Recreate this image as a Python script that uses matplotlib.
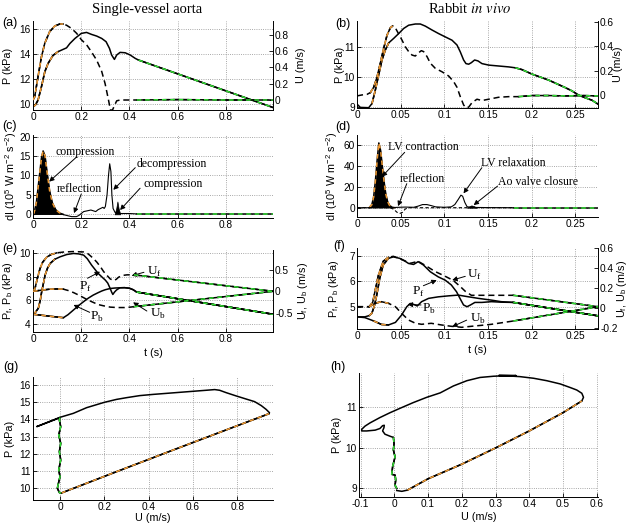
import numpy as np
import matplotlib.pyplot as plt

plt.rcParams['font.family'] = 'Liberation Sans'
plt.rcParams['axes.unicode_minus'] = False

ORANGE = '#ee9933'
GREEN = '#33dd33'
LW = 1.1
SERIF = 'Liberation Serif'
TICK_FS = 7.3

# ---------------- data ----------------
# (a) single-vessel aorta: pressure and velocity vs time
ta_P = np.array([0, 0.01, 0.021, 0.035, 0.049, 0.0625, 0.083, 0.104, 0.125, 0.139, 0.153, 0.174,
                 0.2, 0.222, 0.243, 0.264, 0.285, 0.303, 0.317, 0.326, 0.3375, 0.347, 0.361,
                 0.382, 0.403, 0.424, 0.4375, 0.995])
Pa = np.array([9.8, 9.95, 10.34, 11.4, 12.6, 13.26, 13.9, 14.2, 14.38, 14.5, 14.85, 15.25,
               15.65, 15.73, 15.57, 15.44, 15.25, 14.99, 14.46, 13.93, 13.58, 13.93, 14.14,
               14.11, 13.93, 13.66, 13.53, 9.75])
ta_U = np.array([0, 0.007, 0.021, 0.035, 0.049, 0.069, 0.09, 0.111, 0.125, 0.139, 0.16, 0.181,
                 0.201, 0.222, 0.243, 0.264, 0.285, 0.299, 0.313, 0.3215, 0.33, 0.3375, 0.347,
                 0.361, 0.43, 0.6, 0.8, 0.995])
Ua = np.array([0.0, 0.04, 0.29, 0.53, 0.7, 0.84, 0.91, 0.935, 0.935, 0.92, 0.88, 0.82,
               0.74, 0.68, 0.59, 0.49, 0.35, 0.2, 0.0, -0.13, -0.12, -0.07, -0.01,
               0.0, 0.0, 0.005, 0.0, 0.0])

# (b) rabbit in vivo: pressure and velocity vs time
tb_P = np.array([0, 0.0038, 0.0134, 0.0172, 0.021, 0.0248, 0.0286, 0.0324, 0.0363, 0.042, 0.0477,
                 0.0534, 0.0592, 0.0668, 0.0725, 0.0782, 0.0859, 0.0935, 0.1011, 0.1088, 0.1145,
                 0.1183, 0.1221, 0.1248, 0.1279, 0.1309, 0.1347, 0.1385, 0.1431, 0.1508, 0.1622,
                 0.1737, 0.1813, 0.1889, 0.2004, 0.2195, 0.2385, 0.2462, 0.2538, 0.2615, 0.2691,
                 0.276])
Pb_ = np.array([9.09, 8.98, 8.97, 9.11, 9.56, 10.06, 10.56, 10.89, 11.13, 11.28, 11.44,
                11.61, 11.72, 11.76, 11.76, 11.69, 11.56, 11.44, 11.33, 11.22, 11.06,
                10.83, 10.56, 10.44, 10.42, 10.47, 10.56, 10.53, 10.44, 10.39, 10.36,
                10.33, 10.3, 10.24, 10.09, 9.89, 9.64, 9.53, 9.39, 9.3, 9.22, 9.09])
tb_U = np.array([0, 0.0057, 0.0115, 0.0153, 0.0191, 0.0229, 0.0267, 0.0305, 0.0344, 0.0382, 0.0408,
                 0.0439, 0.0477, 0.0515, 0.0553, 0.0592, 0.063, 0.0668, 0.0706, 0.0737, 0.0763,
                 0.0802, 0.084, 0.0897, 0.0973, 0.105, 0.1107, 0.1145, 0.1183, 0.1221, 0.1248,
                 0.1279, 0.1317, 0.1374, 0.1431, 0.1508, 0.1622, 0.1737, 0.1851, 0.2004, 0.2195,
                 0.2385, 0.2576, 0.276])
Ub_ = np.array([-0.008, 0.0, 0.005, 0.019, 0.063, 0.145, 0.26, 0.38, 0.49, 0.55, 0.565,
                0.55, 0.5, 0.45, 0.395, 0.355, 0.327, 0.319, 0.346, 0.363, 0.355,
                0.314, 0.26, 0.218, 0.19, 0.155, 0.109, 0.063, -0.014, -0.082, -0.105,
                -0.1, -0.063, -0.035, -0.046, -0.035, -0.019, -0.014, -0.014, -0.005, -0.005,
                -0.008, -0.005, -0.008])

# (c) wave intensity, single vessel
tc_fill = np.array([0.003, 0.014, 0.025, 0.035, 0.042, 0.05, 0.058, 0.069, 0.08, 0.094, 0.111, 0.125])
dIc_fill = np.array([0, 3, 9, 14.5, 16.3, 15, 11, 6, 3, 1.2, 0.3, 0])
tc_line = np.array([0, 0.12, 0.14, 0.16, 0.18, 0.19, 0.2, 0.21, 0.225, 0.24, 0.25, 0.26, 0.27,
                    0.28, 0.29, 0.295, 0.3, 0.307, 0.313, 0.318, 0.323, 0.327, 0.332, 0.34,
                    0.36, 0.4, 0.43])
dIc_line = np.array([0, 0, -0.3, -0.6, -0.6, -0.3, 0.2, 0.7, 0.9, 1.1, 0.9, 0.7, 1.2,
                     1.5, 1.8, 1.5, 2.0, 5, 10, 13, 11, 5, 1.5, 0.5,
                     0.2, 0.2, 0.1])
tc_fill2 = np.array([0.338, 0.345, 0.35, 0.355, 0.362])
dIc_fill2 = np.array([0, 1.5, 3.3, 1.5, 0])
tc_rest = np.array([0.43, 0.995])
dIc_rest = np.array([0, 0])

# (d) wave intensity, rabbit
td_fill = np.array([0.014, 0.017, 0.019, 0.021, 0.023, 0.025, 0.027, 0.029, 0.031, 0.033, 0.035,
                    0.037, 0.040, 0.043])
dId_fill = np.array([0, 3, 10, 25, 45, 62, 55, 40, 25, 13, 6, 2.5, 0.5, 0])
td_line = np.array([0, 0.04, 0.045, 0.055, 0.065, 0.07, 0.075, 0.08, 0.085, 0.09, 0.1, 0.108,
                    0.112, 0.116, 0.119, 0.121, 0.1235, 0.126, 0.13, 0.15, 0.18])
dId_line = np.array([0, 0, 0.3, 0.6, 0.4, 1.5, 3.0, 3.0, 2, 0.8, 0.4, 0.8,
                     3, 8, 12, 11, 5, 1, 0.3, 0.1, 0])
td_dash = np.array([0, 0.038, 0.042, 0.046, 0.049, 0.052, 0.055, 0.058, 0.18])
dId_dash = np.array([0, 0, -1.5, -4.5, -5.5, -4.5, -1.5, 0, 0])
td_fill2 = np.array([0.126, 0.129, 0.131, 0.134, 0.137])
dId_fill2 = np.array([0, 1.5, 2.2, 1.5, 0])
td_rest = np.array([0.18, 0.276])
dId_rest = np.array([0, 0])

# (e) separated forward / backward waves, single vessel
te_Pf = np.array([0, 0.01, 0.022, 0.03, 0.036, 0.045, 0.05, 0.06, 0.071, 0.09, 0.1125, 0.14, 0.168,
                  0.19, 0.21, 0.225, 0.243, 0.257, 0.27, 0.285, 0.3, 0.31, 0.32, 0.326, 0.331,
                  0.338, 0.346, 0.36, 0.38, 0.40, 0.415, 0.43, 0.995])
Pf_e = np.array([4.84, 5.0, 5.34, 6.0, 6.73, 7.6, 8.12, 8.7, 9.1, 9.45, 9.66, 9.85, 9.94,
                 9.9, 9.8, 9.5, 8.96, 8.6, 8.27, 7.98, 7.7, 7.45, 7.0, 6.7, 6.5,
                 6.7, 6.87, 7.06, 7.07, 7.02, 6.9, 6.7, 4.84])
te_Pb = np.array([0, 0.042, 0.08, 0.126, 0.145, 0.168, 0.19, 0.21, 0.23, 0.25, 0.27, 0.285, 0.3,
                  0.32, 0.34, 0.36, 0.38, 0.40, 0.415, 0.43, 0.995])
Pb_e = np.array([4.84, 4.74, 4.65, 4.55, 4.8, 5.2, 5.58, 5.9, 6.2, 6.45, 6.65, 6.79, 6.9,
                 7.0, 7.04, 7.06, 7.07, 7.02, 6.9, 6.7, 4.84])
te_Uf = np.array([0, 0.008, 0.018, 0.029, 0.04, 0.057, 0.075, 0.099, 0.13, 0.168, 0.21, 0.225,
                  0.236, 0.25, 0.265, 0.28, 0.293, 0.307, 0.32, 0.335, 0.345, 0.355, 0.37, 0.39,
                  0.418, 0.995])
Uf_e = np.array([0.0, 0.06, 0.3, 0.53, 0.68, 0.8, 0.86, 0.9, 0.92, 0.93, 0.92, 0.89,
                 0.84, 0.77, 0.68, 0.57, 0.46, 0.37, 0.29, 0.25, 0.28, 0.33, 0.37, 0.385,
                 0.385, 0.0])
te_Ub = np.array([0, 0.04, 0.07, 0.1, 0.126, 0.145, 0.168, 0.19, 0.21, 0.23, 0.25, 0.27, 0.293,
                  0.32, 0.349, 0.38, 0.404, 0.418, 0.995])
Ub_e = np.array([0.0, 0.03, 0.05, 0.055, 0.05, 0.02, -0.03, -0.09, -0.15, -0.21, -0.26, -0.31,
                 -0.34, -0.37, -0.38, -0.38, -0.37, -0.36, 0.0])

# (f) separated forward / backward waves, rabbit
tf_Pf = np.array([0, 0.009, 0.014, 0.017, 0.02, 0.0226, 0.026, 0.03, 0.036, 0.0416, 0.049, 0.055,
                  0.059, 0.0648, 0.070, 0.076, 0.084, 0.093, 0.101, 0.108, 0.114, 0.119, 0.122,
                  0.126, 0.130, 0.135, 0.143, 0.154, 0.165, 0.179, 0.276])
Pf_f = np.array([4.6, 4.6, 4.65, 4.74, 5.05, 5.46, 6.12, 6.65, 6.91, 6.97, 6.91, 6.8,
                 6.71, 6.67, 6.78, 6.65, 6.38, 6.18, 6.05, 5.86, 5.59, 5.26, 5.07,
                 5.0, 5.07, 5.17, 5.17, 5.2, 5.18, 5.17, 4.64])
tf_Pb = np.array([0, 0.009, 0.019, 0.028, 0.036, 0.044, 0.051, 0.057, 0.061, 0.065, 0.069, 0.074,
                  0.082, 0.093, 0.105, 0.116, 0.128, 0.139, 0.154, 0.165, 0.179, 0.276])
Pb_f = np.array([4.6, 4.57, 4.44, 4.3, 4.28, 4.38, 4.67, 5.0, 5.13, 5.09, 5.03, 5.2,
                 5.33, 5.39, 5.43, 5.46, 5.39, 5.33, 5.26, 5.2, 5.17, 4.64])
tf_Uf = np.array([0, 0.014, 0.018, 0.0206, 0.0245, 0.030, 0.036, 0.0416, 0.051, 0.061, 0.070,
                  0.078, 0.089, 0.101, 0.110, 0.118, 0.124, 0.131, 0.141, 0.154, 0.179, 0.276])
Uf_f = np.array([0.016, 0.016, 0.06, 0.17, 0.33, 0.47, 0.51, 0.52, 0.49, 0.45, 0.47,
                 0.43, 0.37, 0.32, 0.28, 0.22, 0.17, 0.13, 0.13, 0.13, 0.13, 0.016])
tf_Ub = np.array([0, 0.014, 0.0206, 0.028, 0.036, 0.044, 0.051, 0.059, 0.067, 0.074, 0.085, 0.097,
                  0.108, 0.12, 0.131, 0.143, 0.154, 0.179, 0.276])
Ub_f = np.array([0.016, 0.016, 0.05, 0.066, 0.05, 0.016, -0.05, -0.117, -0.15, -0.16, -0.15,
                 -0.167, -0.18, -0.19, -0.18, -0.17, -0.16, -0.127, 0.016])

# (g) P-U loop, single vessel (in time order)
Ug = np.array([0.005, 0.25, 0.5, 0.75, 0.943, 0.945, 0.93, 0.908, 0.878, 0.84, 0.795, 0.75, 0.72,
               0.698, 0.66, 0.6, 0.54, 0.48, 0.42, 0.36, 0.3, 0.255, 0.2, 0.12, 0.06, 0.0,
               -0.045, -0.105, -0.05, 0.0, -0.003, 0.003, -0.006, 0.003, -0.003, 0.003, -0.006,
               0.0, -0.009, -0.012, -0.003, 0.005])
Pg = np.array([9.72, 10.94, 12.17, 13.39, 14.33, 14.39, 14.58, 14.8, 15.03, 15.18, 15.36, 15.55,
               15.69, 15.73, 15.69, 15.63, 15.57, 15.51, 15.45, 15.38, 15.26, 15.16, 14.99, 14.68,
               14.35, 14.12, 13.89, 13.58, 13.85, 14.1, 13.97, 13.58, 13.09, 12.61, 12.13, 11.64,
               11.06, 10.68, 10.19, 10.0, 9.75, 9.72])

# (h) P-U loop, rabbit (in time order)
Uh = np.array([0.007, 0.022, 0.039, 0.1, 0.2, 0.3, 0.4, 0.5, 0.556, 0.561, 0.556, 0.541, 0.522,
               0.492, 0.452, 0.413, 0.373, 0.353, 0.36, 0.31, 0.36, 0.32, 0.294, 0.254, 0.215,
               0.175, 0.136, 0.096, 0.056, 0.017, -0.013, -0.043, -0.072, -0.087, -0.097, -0.097,
               -0.082, -0.057, -0.043, -0.035, -0.03, -0.031, -0.035, -0.028, -0.013, -0.003,
               -0.001, -0.003, 0.002, -0.005, -0.008, 0.002, 0.004, 0.002, 0.007])
Ph = np.array([8.95, 8.93, 8.96, 9.24, 9.6, 10.0, 10.42, 10.87, 11.16, 11.25, 11.35, 11.43, 11.49,
               11.58, 11.66, 11.72, 11.76, 11.77, 11.79, 11.79, 11.78, 11.78, 11.77, 11.74, 11.66,
               11.53, 11.36, 11.25, 11.12, 10.98, 10.87, 10.75, 10.62, 10.54, 10.46, 10.42,
               10.42, 10.44, 10.48, 10.55, 10.56, 10.5, 10.42, 10.34, 10.29, 10.26,
               10.11, 9.95, 9.78, 9.55, 9.35, 9.33, 9.21, 9.08, 9.0])

ticks_t_left = [0, 0.2, 0.4, 0.6, 0.8]
ticks_t_right = [0, 0.05, 0.1, 0.15, 0.2, 0.25]


# ---------------- helpers ----------------
W, H = 630, 523
fig = plt.figure(figsize=(W / 100, H / 100), dpi=100)


def box(l, t, r, b):
    return [l / W, 1 - b / H, (r - l) / W, (b - t) / H]


def make_ax(rect, xlim, ylim, xt, yt):
    ax = fig.add_axes(rect)
    ax.set_xlim(*xlim)
    ax.set_ylim(*ylim)
    ax.set_xticks(xt, [f'{v:g}' for v in xt])
    ax.set_yticks(yt, [f'{v:g}' for v in yt])
    ax.tick_params(direction='in', length=3, width=0.6, labelsize=TICK_FS, pad=1.5)
    ax.grid(True, ls=':', color='#8c8c8c', lw=0.6)
    ax.set_axisbelow(True)
    for s in ['top', 'right']:
        ax.spines[s].set_visible(False)
    for s in ['left', 'bottom']:
        ax.spines[s].set_linewidth(0.7)
    return ax


def twin(ax, ylim, yt):
    tw = ax.twinx()
    tw.set_ylim(*ylim)
    tw.set_yticks(yt, [f'{v:g}' for v in yt])
    tw.tick_params(direction='in', length=3, width=0.6, labelsize=TICK_FS, pad=1.5)
    for s in ['top', 'left', 'bottom']:
        tw.spines[s].set_visible(False)
    tw.spines['right'].set_linewidth(0.7)
    return tw


def curve(ax, x, y, ls='-', orange=None, green=None):
    ax.plot(x, y, color='k', ls=ls, lw=LW, dashes=(4, 2.5) if ls == '--' else (None, None))
    for rng, col in ((orange, ORANGE), (green, GREEN)):
        if rng is None:
            continue
        m = (x >= rng[0]) & (x <= rng[1])
        ax.plot(x[m], y[m], color='k', lw=LW)
        ax.plot(x[m], y[m], color=col, lw=LW, dashes=(3, 2.5))


def seg(ax, x, y, col):
    ax.plot(x, y, color='k', lw=LW)
    ax.plot(x, y, color=col, lw=LW, dashes=(3, 2.5))


def arrow(ax, tail, tip):
    ax.annotate('', xy=tip, xytext=tail,
                arrowprops=dict(arrowstyle='-|>', color='k', lw=0.7, mutation_scale=7,
                                shrinkA=0, shrinkB=0))


def note(ax, x, y, s, size=8.5, va='center'):
    ax.text(x, y, s, family=SERIF, fontsize=size, ha='left', va=va)


def ylab(ax, s, x):
    ax.set_ylabel(s, fontsize=7.8, va='center', math_fontfamily='dejavusans')
    ax.yaxis.set_label_coords(x, 0.5)


def xlab(ax, s, y):
    ax.set_xlabel(s, fontsize=7.8, va='center')
    ax.xaxis.set_label_coords(0.5, y)


# ---------------- (a) ----------------
ax = make_ax(box(33, 21, 273, 110), (0, 0.995), (9.55, 16.64), ticks_t_left, [10, 12, 14, 16])
tw = twin(ax, (-0.123, 0.972), [0, 0.2, 0.4, 0.6, 0.8])
curve(ax, ta_P, Pa, '-', orange=(0, 0.11), green=(0.43, 1))
curve(tw, ta_U, Ua, '--', orange=(0, 0.125), green=(0.43, 1))
ylab(ax, 'P (kPa)', -0.105)
ylab(tw, 'U (m/s)', 1.115)

# ---------------- (b) ----------------
ax = make_ax(box(357, 21, 598, 108), (0, 0.276), (8.96, 11.86), ticks_t_right, [9, 10, 11])
tw = twin(ax, (-0.107, 0.606), [0, 0.2, 0.4, 0.6])
curve(ax, tb_P, Pb_, '-', orange=(0.015, 0.037), green=(0.18, 1))
curve(tw, tb_U, Ub_, '--', orange=(0.012, 0.041), green=(0.18, 1))
ylab(ax, 'P (kPa)', -0.072)
ylab(tw, 'U (m/s)', 1.085)

# ---------------- (c) ----------------
ax = make_ax(box(33, 135, 273, 218), (0, 0.995), (-0.95, 20.4), ticks_t_left, [0, 5, 10, 15, 20])
ax.fill_between(tc_fill, 0, dIc_fill, color='k', lw=0)
seg(ax, tc_fill, dIc_fill, ORANGE)
ax.plot(tc_line, dIc_line, color='k', lw=0.8)
ax.fill_between(tc_fill2, 0, dIc_fill2, color='k', lw=0.5)
seg(ax, tc_rest, dIc_rest, GREEN)
note(ax, 0.094, 16.1, 'compression')
arrow(ax, (0.18, 14.7), (0.067, 8.4))
note(ax, 0.10, 6.5, 'reflection')
arrow(ax, (0.2, 5.2), (0.17, 0.3))
note(ax, 0.43, 12.9, 'decompression')
arrow(ax, (0.424, 12.0), (0.333, 6.3))
note(ax, 0.458, 7.7, 'compression')
arrow(ax, (0.444, 6.7), (0.361, 1.1))
ylab(ax, r'dI (10$^\mathregular{5}$ W m$^\mathregular{-2}$ s$^\mathregular{-2}$)', -0.09)

# ---------------- (d) ----------------
ax = make_ax(box(357, 135, 598, 217), (0, 0.276), (-8.9, 69.6), ticks_t_right, [0, 20, 40, 60])
ax.fill_between(td_fill, 0, dId_fill, color='k', lw=0)
seg(ax, td_fill, dId_fill, ORANGE)
ax.plot(td_line, dId_line, color='k', lw=0.8)
ax.plot(td_dash, dId_dash, color='k', lw=0.8, dashes=(3, 2))
ax.fill_between(td_fill2, 0, dId_fill2, color='k', lw=0.5)
seg(ax, td_rest, dId_rest, GREEN)
note(ax, 0.036, 58.4, 'LV contraction')
arrow(ax, (0.0546, 53), (0.0286, 29.7))
note(ax, 0.0496, 27.4, 'reflection')
arrow(ax, (0.057, 23), (0.047, 1.5))
note(ax, 0.142, 43, 'LV relaxation')
arrow(ax, (0.143, 38.3), (0.122, 13.7))
note(ax, 0.162, 24.9, 'Ao valve closure')
arrow(ax, (0.161, 20.7), (0.1336, 2.5))
ylab(ax, r'dI (10$^\mathregular{5}$ W m$^\mathregular{-2}$ s$^\mathregular{-2}$)', -0.104)

# ---------------- (e) ----------------
ax = make_ax(box(33, 250, 273, 332), (0, 0.995), (3.35, 10.23), ticks_t_left, [4, 6, 8, 10])
tw = twin(ax, (-0.952, 0.966), [-0.5, 0, 0.5])
curve(ax, te_Pf, Pf_e, '-', orange=(0, 0.1), green=(0.42, 1))
curve(ax, te_Pb, Pb_e, '-', orange=(0, 0.126), green=(0.42, 1))
curve(tw, te_Uf, Uf_e, '--', orange=(0, 0.1), green=(0.418, 1))
curve(tw, te_Ub, Ub_e, '--', orange=(0, 0.126), green=(0.418, 1))
note(ax, 0.472, 8.13, r'U$_\mathregular{f}$', size=9.5, va='baseline')
arrow(ax, (0.46, 8.36), (0.409, 8.07))
note(ax, 0.19, 6.87, r'P$_\mathregular{f}$', size=9.5, va='baseline')
arrow(ax, (0.226, 7.86), (0.278, 8.41))
note(ax, 0.236, 4.36, r'P$_\mathregular{b}$', size=9.5, va='baseline')
arrow(ax, (0.235, 5.0), (0.168, 5.62))
note(ax, 0.486, 4.64, r'U$_\mathregular{b}$', size=9.5, va='baseline')
arrow(ax, (0.472, 5.11), (0.415, 5.84))
ylab(ax, r'P$_\mathregular{f}$, P$_\mathregular{b}$ (kPa)', -0.105)
ylab(tw, r'U$_\mathregular{f}$, U$_\mathregular{b}$ (m/s)', 1.125)
xlab(ax, 't (s)', -0.25)

# ---------------- (f) ----------------
ax = make_ax(box(357, 248, 598, 329), (0, 0.276), (4.12, 7.32), ticks_t_right, [5, 6, 7])
tw = twin(ax, (-0.207, 0.603), [-0.2, 0, 0.2, 0.4, 0.6])
curve(ax, tf_Pf, Pf_f, '-', orange=(0.012, 0.04), green=(0.179, 1))
curve(ax, tf_Pb, Pb_f, '-', orange=(0.012, 0.04), green=(0.179, 1))
curve(tw, tf_Uf, Uf_f, '--', orange=(0.012, 0.04), green=(0.179, 1))
curve(tw, tf_Ub, Ub_f, '--', orange=(0.012, 0.04), green=(0.179, 1))
note(ax, 0.1256, 6.12, r'U$_\mathregular{f}$', size=9.5, va='baseline')
arrow(ax, (0.124, 6.2), (0.109, 6.05))
note(ax, 0.0626, 5.46, r'P$_\mathregular{f}$', size=9.5, va='baseline')
arrow(ax, (0.076, 5.83), (0.0913, 6.05))
note(ax, 0.074, 4.78, r'P$_\mathregular{b}$', size=9.5, va='baseline')
arrow(ax, (0.0733, 5.07), (0.058, 5.09))
note(ax, 0.1294, 4.41, r'U$_\mathregular{b}$', size=9.5, va='baseline')
arrow(ax, (0.1256, 4.47), (0.109, 4.21))
ylab(ax, r'P$_\mathregular{f}$, P$_\mathregular{b}$ (kPa)', -0.097)
ylab(tw, r'U$_\mathregular{f}$, U$_\mathregular{b}$ (m/s)', 1.1)
xlab(ax, 't (s)', -0.265)

# ---------------- (g) ----------------
ax = make_ax(box(33, 377, 273, 500), (-0.122, 0.961), (9.32, 16.46),
             [0, 0.2, 0.4, 0.6, 0.8], [10, 11, 12, 13, 14, 15, 16])
ax.plot(Ug, Pg, color='k', lw=LW)
seg(ax, Ug[0:5], Pg[0:5], ORANGE)
seg(ax, Ug[29:], Pg[29:], GREEN)
ylab(ax, 'P (kPa)', -0.095)
xlab(ax, 'U (m/s)', -0.145)

# ---------------- (h) ----------------
ax = make_ax(box(359, 373, 598, 497), (-0.105, 0.604), (8.79, 11.85),
             [-0.1, 0, 0.1, 0.2, 0.3, 0.4, 0.5, 0.6], [9, 10, 11])
ax.plot(Uh, Ph, color='k', lw=LW)
seg(ax, Uh[2:9], Ph[2:9], ORANGE)
seg(ax, Uh[45:], Ph[45:], GREEN)
ylab(ax, 'P (kPa)', -0.092)
xlab(ax, 'U (m/s)', -0.165)

# ---------------- titles and panel letters ----------------
fig.text(147 / W, 1 - 9 / H, 'Single-vessel aorta', family=SERIF, fontsize=10.5,
         ha='center', va='center')
fig.text(470 / W, 1 - 9 / H, r'Rabbit $\mathit{in\ vivo}$', family=SERIF, fontsize=10.5,
         ha='center', va='center', math_fontfamily='stix')
for lab, x, y in [('(a)', 2, 23), ('(b)', 335, 24), ('(c)', 2, 126), ('(d)', 335, 127),
                  ('(e)', 2, 249), ('(f)', 333, 246), ('(g)', 3, 367), ('(h)', 330, 367)]:
    fig.text(x / W, 1 - y / H, lab, fontsize=9, ha='left', va='center')

fig.savefig('out.png', dpi=100)
